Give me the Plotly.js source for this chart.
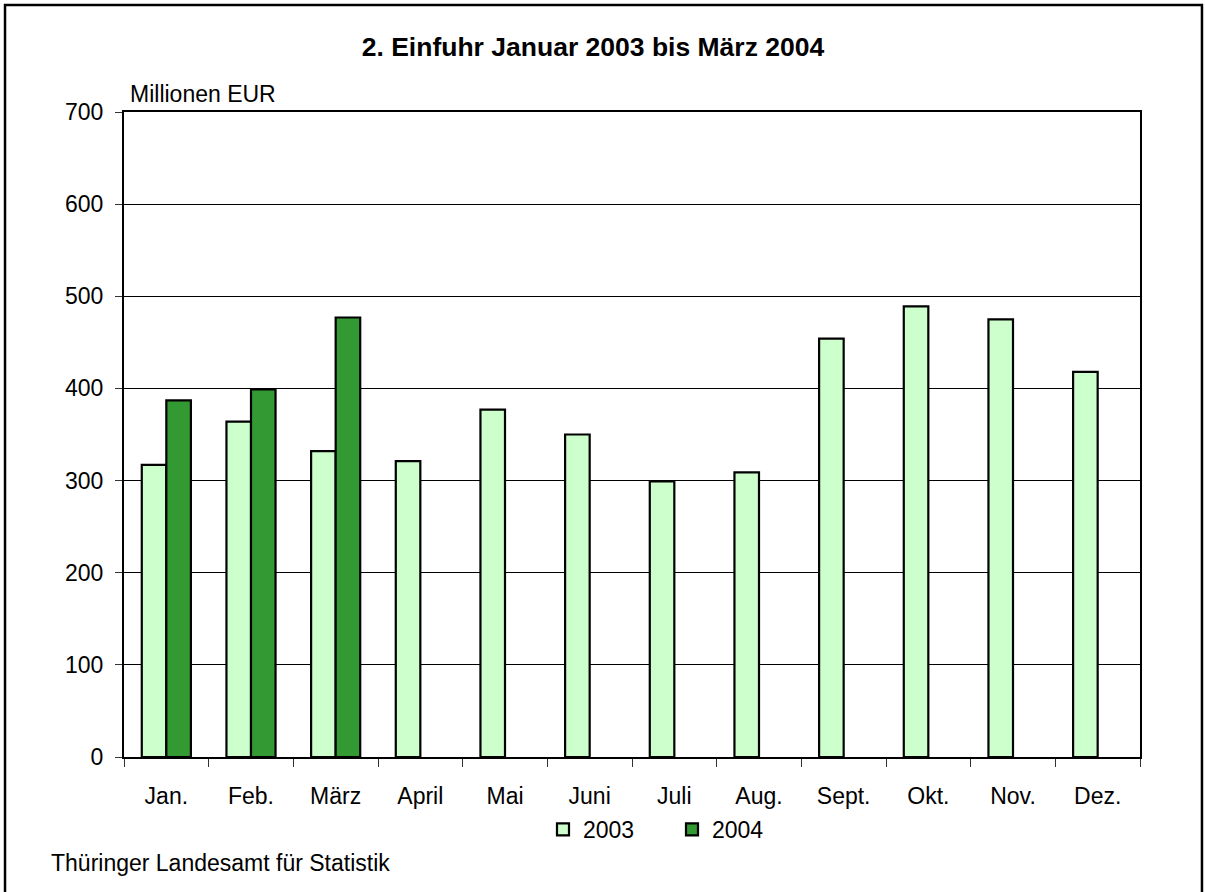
<!DOCTYPE html>
<html>
<head>
<meta charset="utf-8">
<script src="https://cdn.plot.ly/plotly-3.0.1.min.js"></script>
<style>html,body{margin:0;padding:0;background:#fff;}#chart{width:1205px;height:892px;}</style>
</head>
<body>
<div id="chart"></div>
<script>
const months = ["Jan.", "Feb.", "März", "April", "Mai", "Juni", "Juli", "Aug.", "Sept.", "Okt.", "Nov.", "Dez."];
const values2003 = [317, 364, 332, 321, 377, 350, 299, 309, 454, 489, 475, 418];
const values2004 = [387, 399, 477, null, null, null, null, null, null, null, null, null];
const seriesNames = ["2003", "2004"];
const titleText = "2. Einfuhr Januar 2003 bis März 2004";
const unitText = "Millionen EUR";
const sourceText = "Thüringer Landesamt für Statistik";

const FONT = "Liberation Sans, Arial, sans-serif";

const traces = [
  {type: "bar", name: seriesNames[0], x: months, y: values2003,
   marker: {color: "#CCFFCC", line: {color: "#000", width: 2.2}}},
  {type: "bar", name: seriesNames[1], x: months, y: values2004,
   marker: {color: "#339933", line: {color: "#000", width: 2.2}}}
];

const layout = {
  width: 1205, height: 892,
  paper_bgcolor: "#fff", plot_bgcolor: "#fff",
  margin: {l: 124, r: 65, t: 112, b: 135},
  font: {family: FONT, size: 23, color: "#000"},
  barmode: "group", bargap: 0.42, bargroupgap: 0,
  title: {text: "<b>" + titleText + "</b>", font: {family: FONT, size: 26.5, color: "#000"},
          x: 0.4921, xanchor: "center", xref: "container", y: 0.9476, yanchor: "middle", yref: "container"},
  xaxis: {type: "category", showline: true, linecolor: "#000", linewidth: 2, mirror: true,
          ticks: "outside", tickson: "boundaries", ticklen: 8, tickcolor: "#333", tickwidth: 1,
          showgrid: false, tickfont: {family: FONT, size: 23}, ticklabelstandoff: 17},
  yaxis: {range: [0, 700], dtick: 100, showline: true, linecolor: "#000", linewidth: 2, mirror: true,
          ticks: "outside", ticklen: 7, tickcolor: "#333", tickwidth: 1,
          showgrid: true, gridcolor: "#000", gridwidth: 1, zeroline: false,
          tickfont: {family: FONT, size: 23}, ticklabelstandoff: 7},
  showlegend: true,
  legend: {orientation: "h", x: 0.4124, xanchor: "left", y: -0.1124, yanchor: "middle",
           font: {family: FONT, size: 23}, entrywidth: 84, entrywidthmode: "pixels",
           bgcolor: "rgba(0,0,0,0)", borderwidth: 0, traceorder: "normal"},
  annotations: [
    {text: unitText, xref: "paper", yref: "paper", x: 0.0039, y: 1.0285, xanchor: "left", yanchor: "middle",
     showarrow: false, font: {family: FONT, size: 23}},
    {text: sourceText, xref: "paper", yref: "paper", x: -0.0738, y: -0.1643, xanchor: "left", yanchor: "middle",
     showarrow: false, font: {family: FONT, size: 23}}
  ],
  shapes: [
    {type: "rect", xref: "paper", yref: "paper", x0: -0.1171, x1: 1.0610, y0: -0.2217, y1: 1.1659,
     line: {color: "#000", width: 2.5}, fillcolor: "rgba(0,0,0,0)", layer: "above"}
  ]
};

Plotly.newPlot("chart", traces, layout, {staticPlot: true, displayModeBar: false});
</script>
</body>
</html>
